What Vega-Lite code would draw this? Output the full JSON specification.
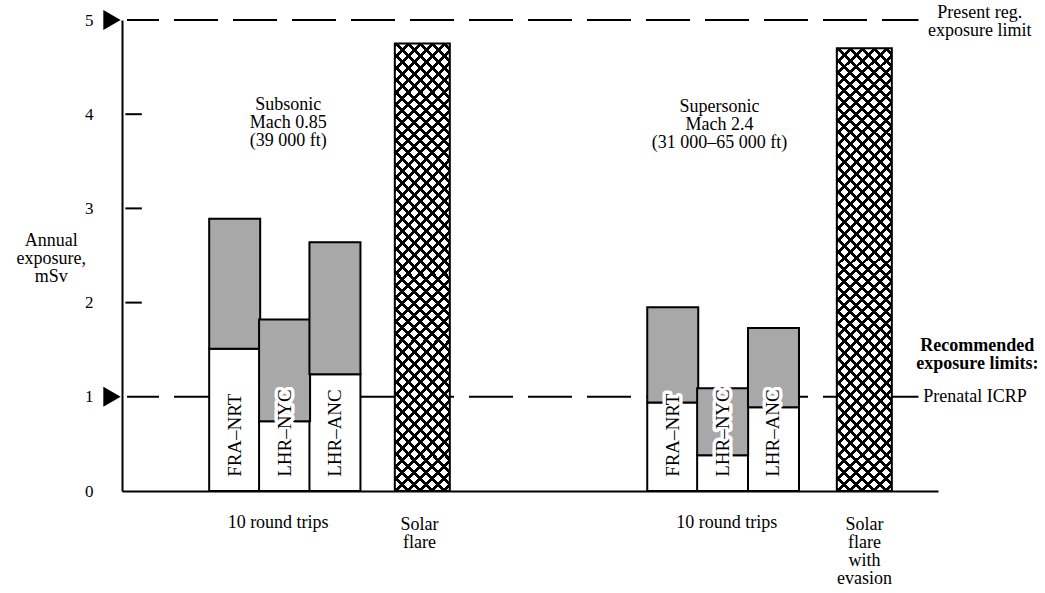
{
  "$schema": "https://vega.github.io/schema/vega-lite/v6.json",
  "width": 816,
  "height": 471,
  "autosize": {"type": "none"},
  "padding": {"left": 122, "top": 20, "right": 107, "bottom": 102},
  "background": "white",
  "config": {
    "view": {"stroke": null},
    "font": "Liberation Serif",
    "text": {"font": "Liberation Serif", "color": "#000"},
    "axis": {"grid": false, "domainColor": "#000", "domainWidth": 2, "labelFont": "Liberation Serif", "labelColor": "#000"},
    "axisX": {"labels": false, "ticks": false},
    "axisY": {"ticks": false, "tickSize": 0, "labelPadding": 29, "labelFontSize": 17, "tickCount": 5}
  },
  "datasets": {
    "limits": [{"limit": 5, "name": "Present reg. exposure limit"}, {"limit": 1, "name": "Prenatal ICRP"}],
    "ticks": [{"t": 2}, {"t": 3}, {"t": 4}],
    "routes": [
      {"flight": "Subsonic", "route": "FRA–NRT", "pos": 13.36, "base": 1.51, "total": 2.89},
      {"flight": "Subsonic", "route": "LHR–NYC", "pos": 19.55, "base": 0.74, "total": 1.82},
      {"flight": "Subsonic", "route": "LHR–ANC", "pos": 25.8, "base": 1.24, "total": 2.64},
      {"flight": "Supersonic", "route": "FRA–NRT", "pos": 67.71, "base": 0.94, "total": 1.95},
      {"flight": "Supersonic", "route": "LHR–NYC", "pos": 73.9, "base": 0.38, "total": 1.09},
      {"flight": "Supersonic", "route": "LHR–ANC", "pos": 80.21, "base": 0.89, "total": 1.73}
    ],
    "solar": [
      {"event": "Solar flare", "pos": 36.64, "dose": 4.75},
      {"event": "Solar flare with evasion", "pos": 91.48, "dose": 4.7}
    ],
    "notes": [
      {"note": ["Subsonic", "Mach 0.85", "(39 000 ft)"], "pos": 20.0, "at": 4.045, "kind": "caption"},
      {"note": ["Supersonic", "Mach 2.4", "(31 000–65 000 ft)"], "pos": 73.5, "at": 4.023, "kind": "caption"},
      {"note": ["Annual", "exposure,", "mSv"], "pos": -9.4, "at": 2.6, "kind": "caption"},
      {"note": ["Present reg.", "exposure limit"], "pos": 105.8, "at": 5.02, "kind": "caption"},
      {"note": ["10 round trips"], "pos": 18.75, "at": -0.393, "kind": "caption"},
      {"note": ["10 round trips"], "pos": 74.4, "at": -0.393, "kind": "caption"},
      {"note": ["Solar", "flare"], "pos": 36.3, "at": -0.414, "kind": "caption"},
      {"note": ["Solar", "flare", "with", "evasion"], "pos": 91.5, "at": -0.414, "kind": "caption"},
      {"note": ["Recommended", "exposure limits:"], "pos": 105.5, "at": 1.486, "kind": "heading"},
      {"note": ["Prenatal ICRP"], "pos": 98.8, "at": 1, "kind": "limit"}
    ]
  },
  "layer": [
    {
      "data": {"name": "limits"},
      "mark": {"type": "rule", "strokeDash": [44, 15], "strokeDashOffset": 12, "strokeWidth": 2, "color": "#000"},
      "encoding": {
        "x": {"datum": 0, "type": "quantitative", "title": null, "scale": {"domain": [0, 100], "nice": false, "zero": false}},
        "x2": {"datum": 98.2},
        "y": {"field": "limit", "type": "quantitative", "title": null, "scale": {"domain": [0, 5], "nice": false}}
      }
    },
    {
      "data": {"name": "ticks"},
      "mark": {"type": "rule", "strokeWidth": 2, "color": "#000"},
      "encoding": {
        "x": {"datum": -0.2, "type": "quantitative", "title": null},
        "x2": {"datum": 1.84},
        "y": {"field": "t", "type": "quantitative", "title": null}
      }
    },
    {
      "data": {"name": "limits"},
      "mark": {"type": "point", "shape": "triangle-right", "filled": true, "size": 400, "color": "#000", "opacity": 1, "xOffset": -15},
      "encoding": {
        "x": {"datum": 0, "type": "quantitative", "title": null},
        "y": {"field": "limit", "type": "quantitative", "title": null}
      }
    },
    {
      "data": {"name": "routes"},
      "mark": {"type": "bar", "width": 51, "fill": "#ffffff", "stroke": "#000", "strokeWidth": 2},
      "encoding": {
        "x": {"field": "pos", "type": "quantitative", "title": null},
        "y": {"field": "base", "type": "quantitative", "title": null},
        "y2": {"datum": 0}
      }
    },
    {
      "data": {"name": "routes"},
      "mark": {"type": "bar", "width": 51, "fill": "#a8a8a8", "stroke": "#000", "strokeWidth": 2},
      "encoding": {
        "x": {"field": "pos", "type": "quantitative", "title": null},
        "y": {"field": "total", "type": "quantitative", "title": null},
        "y2": {"field": "base"}
      }
    },
    {
      "data": {"name": "routes"},
      "mark": {"type": "text", "angle": 270, "align": "left", "baseline": "middle", "fontSize": 19, "stroke": "#ffffff", "strokeWidth": 7, "strokeJoin": "round", "fill": "#ffffff"},
      "encoding": {
        "x": {"field": "pos", "type": "quantitative", "title": null},
        "y": {"datum": 0.15, "type": "quantitative", "title": null},
        "text": {"field": "route"}
      }
    },
    {
      "data": {"name": "routes"},
      "mark": {"type": "text", "angle": 270, "align": "left", "baseline": "middle", "fontSize": 19, "color": "#000"},
      "encoding": {
        "x": {"field": "pos", "type": "quantitative", "title": null},
        "y": {"datum": 0.15, "type": "quantitative", "title": null},
        "text": {"field": "route"}
      }
    },
    {
      "data": {"name": "solar"},
      "mark": {"type": "bar", "width": 55, "strokeWidth": 0,
        "fill": {"gradient": "linear", "x1": 0, "y1": 0, "x2": 0.1368, "y2": 1.1067, "stops": [
{"offset":0,"color":"#000"},{"offset":0.008,"color":"#000"},{"offset":0.008,"color":"#fff"},{"offset":0.024,"color":"#fff"},
{"offset":0.024,"color":"#000"},{"offset":0.032,"color":"#000"},{"offset":0.032,"color":"#fff"},{"offset":0.048,"color":"#fff"},
{"offset":0.048,"color":"#000"},{"offset":0.056,"color":"#000"},{"offset":0.056,"color":"#fff"},{"offset":0.072,"color":"#fff"},
{"offset":0.072,"color":"#000"},{"offset":0.08,"color":"#000"},{"offset":0.08,"color":"#fff"},{"offset":0.096,"color":"#fff"},
{"offset":0.096,"color":"#000"},{"offset":0.104,"color":"#000"},{"offset":0.104,"color":"#fff"},{"offset":0.12,"color":"#fff"},
{"offset":0.12,"color":"#000"},{"offset":0.128,"color":"#000"},{"offset":0.128,"color":"#fff"},{"offset":0.144,"color":"#fff"},
{"offset":0.144,"color":"#000"},{"offset":0.152,"color":"#000"},{"offset":0.152,"color":"#fff"},{"offset":0.168,"color":"#fff"},
{"offset":0.168,"color":"#000"},{"offset":0.176,"color":"#000"},{"offset":0.176,"color":"#fff"},{"offset":0.192,"color":"#fff"},
{"offset":0.192,"color":"#000"},{"offset":0.2,"color":"#000"},{"offset":0.2,"color":"#fff"},{"offset":0.216,"color":"#fff"},
{"offset":0.216,"color":"#000"},{"offset":0.224,"color":"#000"},{"offset":0.224,"color":"#fff"},{"offset":0.24,"color":"#fff"},
{"offset":0.24,"color":"#000"},{"offset":0.248,"color":"#000"},{"offset":0.248,"color":"#fff"},{"offset":0.264,"color":"#fff"},
{"offset":0.264,"color":"#000"},{"offset":0.272,"color":"#000"},{"offset":0.272,"color":"#fff"},{"offset":0.288,"color":"#fff"},
{"offset":0.288,"color":"#000"},{"offset":0.296,"color":"#000"},{"offset":0.296,"color":"#fff"},{"offset":0.312,"color":"#fff"},
{"offset":0.312,"color":"#000"},{"offset":0.32,"color":"#000"},{"offset":0.32,"color":"#fff"},{"offset":0.336,"color":"#fff"},
{"offset":0.336,"color":"#000"},{"offset":0.344,"color":"#000"},{"offset":0.344,"color":"#fff"},{"offset":0.36,"color":"#fff"},
{"offset":0.36,"color":"#000"},{"offset":0.368,"color":"#000"},{"offset":0.368,"color":"#fff"},{"offset":0.384,"color":"#fff"},
{"offset":0.384,"color":"#000"},{"offset":0.392,"color":"#000"},{"offset":0.392,"color":"#fff"},{"offset":0.408,"color":"#fff"},
{"offset":0.408,"color":"#000"},{"offset":0.416,"color":"#000"},{"offset":0.416,"color":"#fff"},{"offset":0.432,"color":"#fff"},
{"offset":0.432,"color":"#000"},{"offset":0.44,"color":"#000"},{"offset":0.44,"color":"#fff"},{"offset":0.456,"color":"#fff"},
{"offset":0.456,"color":"#000"},{"offset":0.464,"color":"#000"},{"offset":0.464,"color":"#fff"},{"offset":0.48,"color":"#fff"},
{"offset":0.48,"color":"#000"},{"offset":0.488,"color":"#000"},{"offset":0.488,"color":"#fff"},{"offset":0.504,"color":"#fff"},
{"offset":0.504,"color":"#000"},{"offset":0.512,"color":"#000"},{"offset":0.512,"color":"#fff"},{"offset":0.528,"color":"#fff"},
{"offset":0.528,"color":"#000"},{"offset":0.536,"color":"#000"},{"offset":0.536,"color":"#fff"},{"offset":0.552,"color":"#fff"},
{"offset":0.552,"color":"#000"},{"offset":0.56,"color":"#000"},{"offset":0.56,"color":"#fff"},{"offset":0.576,"color":"#fff"},
{"offset":0.576,"color":"#000"},{"offset":0.584,"color":"#000"},{"offset":0.584,"color":"#fff"},{"offset":0.6,"color":"#fff"},
{"offset":0.6,"color":"#000"},{"offset":0.608,"color":"#000"},{"offset":0.608,"color":"#fff"},{"offset":0.624,"color":"#fff"},
{"offset":0.624,"color":"#000"},{"offset":0.632,"color":"#000"},{"offset":0.632,"color":"#fff"},{"offset":0.648,"color":"#fff"},
{"offset":0.648,"color":"#000"},{"offset":0.656,"color":"#000"},{"offset":0.656,"color":"#fff"},{"offset":0.672,"color":"#fff"},
{"offset":0.672,"color":"#000"},{"offset":0.68,"color":"#000"},{"offset":0.68,"color":"#fff"},{"offset":0.696,"color":"#fff"},
{"offset":0.696,"color":"#000"},{"offset":0.704,"color":"#000"},{"offset":0.704,"color":"#fff"},{"offset":0.72,"color":"#fff"},
{"offset":0.72,"color":"#000"},{"offset":0.728,"color":"#000"},{"offset":0.728,"color":"#fff"},{"offset":0.744,"color":"#fff"},
{"offset":0.744,"color":"#000"},{"offset":0.752,"color":"#000"},{"offset":0.752,"color":"#fff"},{"offset":0.768,"color":"#fff"},
{"offset":0.768,"color":"#000"},{"offset":0.776,"color":"#000"},{"offset":0.776,"color":"#fff"},{"offset":0.792,"color":"#fff"},
{"offset":0.792,"color":"#000"},{"offset":0.8,"color":"#000"},{"offset":0.8,"color":"#fff"},{"offset":0.816,"color":"#fff"},
{"offset":0.816,"color":"#000"},{"offset":0.824,"color":"#000"},{"offset":0.824,"color":"#fff"},{"offset":0.84,"color":"#fff"},
{"offset":0.84,"color":"#000"},{"offset":0.848,"color":"#000"},{"offset":0.848,"color":"#fff"},{"offset":0.864,"color":"#fff"},
{"offset":0.864,"color":"#000"},{"offset":0.872,"color":"#000"},{"offset":0.872,"color":"#fff"},{"offset":0.888,"color":"#fff"},
{"offset":0.888,"color":"#000"},{"offset":0.896,"color":"#000"},{"offset":0.896,"color":"#fff"},{"offset":0.912,"color":"#fff"},
{"offset":0.912,"color":"#000"},{"offset":0.92,"color":"#000"},{"offset":0.92,"color":"#fff"},{"offset":0.936,"color":"#fff"},
{"offset":0.936,"color":"#000"},{"offset":0.944,"color":"#000"},{"offset":0.944,"color":"#fff"},{"offset":0.96,"color":"#fff"},
{"offset":0.96,"color":"#000"},{"offset":0.968,"color":"#000"},{"offset":0.968,"color":"#fff"},{"offset":0.984,"color":"#fff"},
{"offset":0.984,"color":"#000"},{"offset":0.992,"color":"#000"},{"offset":0.992,"color":"#fff"},{"offset":1,"color":"#fff"}
        ]}
      },
      "encoding": {
        "x": {"field": "pos", "type": "quantitative", "title": null},
        "y": {"field": "dose", "type": "quantitative", "title": null},
        "y2": {"datum": 0}
      }
    },
    {
      "data": {"name": "solar"},
      "mark": {"type": "bar", "width": 55, "stroke": "#000", "strokeWidth": 2,
        "fill": {"gradient": "linear", "x1": 0, "y1": 1, "x2": 0.1368, "y2": -0.1067, "stops": [
{"offset":0,"color":"#000"},{"offset":0.008,"color":"#000"},{"offset":0.008,"color":"rgba(0,0,0,0)"},{"offset":0.024,"color":"rgba(0,0,0,0)"},
{"offset":0.024,"color":"#000"},{"offset":0.032,"color":"#000"},{"offset":0.032,"color":"rgba(0,0,0,0)"},{"offset":0.048,"color":"rgba(0,0,0,0)"},
{"offset":0.048,"color":"#000"},{"offset":0.056,"color":"#000"},{"offset":0.056,"color":"rgba(0,0,0,0)"},{"offset":0.072,"color":"rgba(0,0,0,0)"},
{"offset":0.072,"color":"#000"},{"offset":0.08,"color":"#000"},{"offset":0.08,"color":"rgba(0,0,0,0)"},{"offset":0.096,"color":"rgba(0,0,0,0)"},
{"offset":0.096,"color":"#000"},{"offset":0.104,"color":"#000"},{"offset":0.104,"color":"rgba(0,0,0,0)"},{"offset":0.12,"color":"rgba(0,0,0,0)"},
{"offset":0.12,"color":"#000"},{"offset":0.128,"color":"#000"},{"offset":0.128,"color":"rgba(0,0,0,0)"},{"offset":0.144,"color":"rgba(0,0,0,0)"},
{"offset":0.144,"color":"#000"},{"offset":0.152,"color":"#000"},{"offset":0.152,"color":"rgba(0,0,0,0)"},{"offset":0.168,"color":"rgba(0,0,0,0)"},
{"offset":0.168,"color":"#000"},{"offset":0.176,"color":"#000"},{"offset":0.176,"color":"rgba(0,0,0,0)"},{"offset":0.192,"color":"rgba(0,0,0,0)"},
{"offset":0.192,"color":"#000"},{"offset":0.2,"color":"#000"},{"offset":0.2,"color":"rgba(0,0,0,0)"},{"offset":0.216,"color":"rgba(0,0,0,0)"},
{"offset":0.216,"color":"#000"},{"offset":0.224,"color":"#000"},{"offset":0.224,"color":"rgba(0,0,0,0)"},{"offset":0.24,"color":"rgba(0,0,0,0)"},
{"offset":0.24,"color":"#000"},{"offset":0.248,"color":"#000"},{"offset":0.248,"color":"rgba(0,0,0,0)"},{"offset":0.264,"color":"rgba(0,0,0,0)"},
{"offset":0.264,"color":"#000"},{"offset":0.272,"color":"#000"},{"offset":0.272,"color":"rgba(0,0,0,0)"},{"offset":0.288,"color":"rgba(0,0,0,0)"},
{"offset":0.288,"color":"#000"},{"offset":0.296,"color":"#000"},{"offset":0.296,"color":"rgba(0,0,0,0)"},{"offset":0.312,"color":"rgba(0,0,0,0)"},
{"offset":0.312,"color":"#000"},{"offset":0.32,"color":"#000"},{"offset":0.32,"color":"rgba(0,0,0,0)"},{"offset":0.336,"color":"rgba(0,0,0,0)"},
{"offset":0.336,"color":"#000"},{"offset":0.344,"color":"#000"},{"offset":0.344,"color":"rgba(0,0,0,0)"},{"offset":0.36,"color":"rgba(0,0,0,0)"},
{"offset":0.36,"color":"#000"},{"offset":0.368,"color":"#000"},{"offset":0.368,"color":"rgba(0,0,0,0)"},{"offset":0.384,"color":"rgba(0,0,0,0)"},
{"offset":0.384,"color":"#000"},{"offset":0.392,"color":"#000"},{"offset":0.392,"color":"rgba(0,0,0,0)"},{"offset":0.408,"color":"rgba(0,0,0,0)"},
{"offset":0.408,"color":"#000"},{"offset":0.416,"color":"#000"},{"offset":0.416,"color":"rgba(0,0,0,0)"},{"offset":0.432,"color":"rgba(0,0,0,0)"},
{"offset":0.432,"color":"#000"},{"offset":0.44,"color":"#000"},{"offset":0.44,"color":"rgba(0,0,0,0)"},{"offset":0.456,"color":"rgba(0,0,0,0)"},
{"offset":0.456,"color":"#000"},{"offset":0.464,"color":"#000"},{"offset":0.464,"color":"rgba(0,0,0,0)"},{"offset":0.48,"color":"rgba(0,0,0,0)"},
{"offset":0.48,"color":"#000"},{"offset":0.488,"color":"#000"},{"offset":0.488,"color":"rgba(0,0,0,0)"},{"offset":0.504,"color":"rgba(0,0,0,0)"},
{"offset":0.504,"color":"#000"},{"offset":0.512,"color":"#000"},{"offset":0.512,"color":"rgba(0,0,0,0)"},{"offset":0.528,"color":"rgba(0,0,0,0)"},
{"offset":0.528,"color":"#000"},{"offset":0.536,"color":"#000"},{"offset":0.536,"color":"rgba(0,0,0,0)"},{"offset":0.552,"color":"rgba(0,0,0,0)"},
{"offset":0.552,"color":"#000"},{"offset":0.56,"color":"#000"},{"offset":0.56,"color":"rgba(0,0,0,0)"},{"offset":0.576,"color":"rgba(0,0,0,0)"},
{"offset":0.576,"color":"#000"},{"offset":0.584,"color":"#000"},{"offset":0.584,"color":"rgba(0,0,0,0)"},{"offset":0.6,"color":"rgba(0,0,0,0)"},
{"offset":0.6,"color":"#000"},{"offset":0.608,"color":"#000"},{"offset":0.608,"color":"rgba(0,0,0,0)"},{"offset":0.624,"color":"rgba(0,0,0,0)"},
{"offset":0.624,"color":"#000"},{"offset":0.632,"color":"#000"},{"offset":0.632,"color":"rgba(0,0,0,0)"},{"offset":0.648,"color":"rgba(0,0,0,0)"},
{"offset":0.648,"color":"#000"},{"offset":0.656,"color":"#000"},{"offset":0.656,"color":"rgba(0,0,0,0)"},{"offset":0.672,"color":"rgba(0,0,0,0)"},
{"offset":0.672,"color":"#000"},{"offset":0.68,"color":"#000"},{"offset":0.68,"color":"rgba(0,0,0,0)"},{"offset":0.696,"color":"rgba(0,0,0,0)"},
{"offset":0.696,"color":"#000"},{"offset":0.704,"color":"#000"},{"offset":0.704,"color":"rgba(0,0,0,0)"},{"offset":0.72,"color":"rgba(0,0,0,0)"},
{"offset":0.72,"color":"#000"},{"offset":0.728,"color":"#000"},{"offset":0.728,"color":"rgba(0,0,0,0)"},{"offset":0.744,"color":"rgba(0,0,0,0)"},
{"offset":0.744,"color":"#000"},{"offset":0.752,"color":"#000"},{"offset":0.752,"color":"rgba(0,0,0,0)"},{"offset":0.768,"color":"rgba(0,0,0,0)"},
{"offset":0.768,"color":"#000"},{"offset":0.776,"color":"#000"},{"offset":0.776,"color":"rgba(0,0,0,0)"},{"offset":0.792,"color":"rgba(0,0,0,0)"},
{"offset":0.792,"color":"#000"},{"offset":0.8,"color":"#000"},{"offset":0.8,"color":"rgba(0,0,0,0)"},{"offset":0.816,"color":"rgba(0,0,0,0)"},
{"offset":0.816,"color":"#000"},{"offset":0.824,"color":"#000"},{"offset":0.824,"color":"rgba(0,0,0,0)"},{"offset":0.84,"color":"rgba(0,0,0,0)"},
{"offset":0.84,"color":"#000"},{"offset":0.848,"color":"#000"},{"offset":0.848,"color":"rgba(0,0,0,0)"},{"offset":0.864,"color":"rgba(0,0,0,0)"},
{"offset":0.864,"color":"#000"},{"offset":0.872,"color":"#000"},{"offset":0.872,"color":"rgba(0,0,0,0)"},{"offset":0.888,"color":"rgba(0,0,0,0)"},
{"offset":0.888,"color":"#000"},{"offset":0.896,"color":"#000"},{"offset":0.896,"color":"rgba(0,0,0,0)"},{"offset":0.912,"color":"rgba(0,0,0,0)"},
{"offset":0.912,"color":"#000"},{"offset":0.92,"color":"#000"},{"offset":0.92,"color":"rgba(0,0,0,0)"},{"offset":0.936,"color":"rgba(0,0,0,0)"},
{"offset":0.936,"color":"#000"},{"offset":0.944,"color":"#000"},{"offset":0.944,"color":"rgba(0,0,0,0)"},{"offset":0.96,"color":"rgba(0,0,0,0)"},
{"offset":0.96,"color":"#000"},{"offset":0.968,"color":"#000"},{"offset":0.968,"color":"rgba(0,0,0,0)"},{"offset":0.984,"color":"rgba(0,0,0,0)"},
{"offset":0.984,"color":"#000"},{"offset":0.992,"color":"#000"},{"offset":0.992,"color":"rgba(0,0,0,0)"},{"offset":1,"color":"rgba(0,0,0,0)"}
        ]}
      },
      "encoding": {
        "x": {"field": "pos", "type": "quantitative", "title": null},
        "y": {"field": "dose", "type": "quantitative", "title": null},
        "y2": {"datum": 0}
      }
    },
    {
      "data": {"name": "notes"},
      "transform": [{"filter": "datum.kind === 'caption'"}],
      "mark": {"type": "text", "align": "center", "baseline": "alphabetic", "fontSize": 18, "lineHeight": 18, "color": "#000"},
      "encoding": {
        "x": {"field": "pos", "type": "quantitative", "title": null},
        "y": {"field": "at", "type": "quantitative", "title": null},
        "text": {"field": "note"}
      }
    },
    {
      "data": {"name": "notes"},
      "transform": [{"filter": "datum.kind === 'heading'"}],
      "mark": {"type": "text", "align": "center", "baseline": "alphabetic", "fontSize": 18, "lineHeight": 18, "fontWeight": "bold", "color": "#000"},
      "encoding": {
        "x": {"field": "pos", "type": "quantitative", "title": null},
        "y": {"field": "at", "type": "quantitative", "title": null},
        "text": {"field": "note"}
      }
    },
    {
      "data": {"name": "notes"},
      "transform": [{"filter": "datum.kind === 'limit'"}],
      "mark": {"type": "text", "align": "left", "baseline": "middle", "fontSize": 18, "color": "#000"},
      "encoding": {
        "x": {"field": "pos", "type": "quantitative", "title": null},
        "y": {"field": "at", "type": "quantitative", "title": null},
        "text": {"field": "note"}
      }
    }
  ]
}
